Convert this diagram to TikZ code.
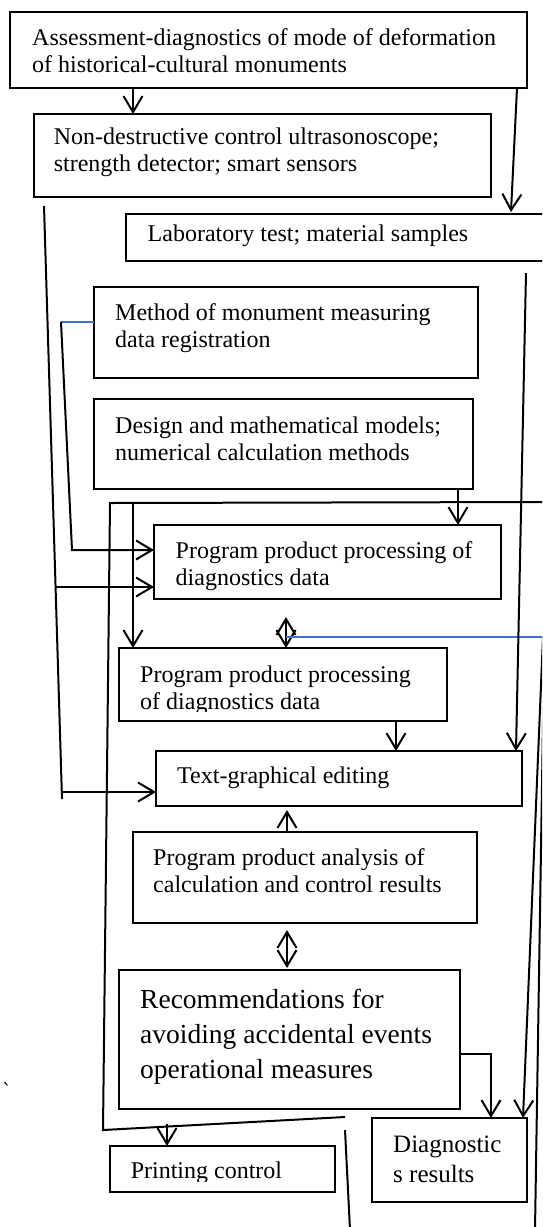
\documentclass[tikz,border=0pt]{standalone}
\usepackage{fontspec}
\setmainfont{Liberation Serif}
\newfontfamily\dvserif{DejaVu Serif}
\usetikzlibrary{arrows.meta,calc}
\definecolor{bluec}{RGB}{68,114,196}
\begin{document}
\begin{tikzpicture}[x=1pt,y=-1pt,
  box/.style={draw, line width=1.9pt, anchor=north west, inner sep=0pt, outer sep=0pt},
  txt/.style={anchor=north west, inner sep=0pt, align=left, font=\fontsize{24}{27}\selectfont},
  bigtxt/.style={anchor=north west, inner sep=0pt, align=left, font=\fontsize{27.5}{35}\selectfont},
  midtxt/.style={anchor=north west, inner sep=0pt, align=left, font=\fontsize{25}{30}\selectfont},
  con/.style={line width=2pt},
  arr/.style={con, -{Straight Barb[length=16pt,width=19pt]}},
  dbl/.style={con, {Straight Barb[length=16pt,width=19pt]}-{Straight Barb[length=16pt,width=19pt]}},
  blu/.style={draw=bluec, line width=1.3pt}]
\useasboundingbox (0,0) rectangle (542,1227);
\clip (0,0) rectangle (542,1227);
\fill[white] (0,0) rectangle (542,1227);

% boxes
\node[box, minimum width=517pt, minimum height=76pt] (b1) at (10,12) {};
\node[box, minimum width=457pt, minimum height=83pt] (b2) at (34,114) {};
\node[box, minimum width=480pt, minimum height=47pt] (b3) at (126,214) {};
\node[box, minimum width=384pt, minimum height=91pt] (b4) at (94,287) {};
\node[box, minimum width=379pt, minimum height=90pt] (b5) at (94,399) {};
\node[box, minimum width=347pt, minimum height=74pt] (b6) at (154,525) {};
\node[box, minimum width=328pt, minimum height=73pt] (b7) at (119,648) {};
\node[box, minimum width=366pt, minimum height=55pt] (b8) at (156,751) {};
\node[box, minimum width=344pt, minimum height=91pt] (b9) at (133,832) {};
\node[box, minimum width=341pt, minimum height=139pt] (b10) at (119,970) {};
\node[box, minimum width=225pt, minimum height=46pt] (b11) at (110,1146) {};
\node[box, minimum width=155pt, minimum height=84pt] (b12) at (372,1118) {};

% texts
\node[txt] (t1) at (32,28.6) {Assessment-diagnostics of mode of deformation\\of historical-cultural monuments};
\node[txt] (t2) at (53.6,127.6) {Non-destructive control ultrasonoscope;\\strength detector; smart sensors};
\begin{scope}
\clip (0,0) rectangle (542,246);
\node[txt] (t3) at (147.5,224.6) {Laboratory test; material samples};
\end{scope}
\node[txt] (t4) at (115,303.6) {Method of monument measuring\\data registration};
\node[txt] (t5) at (115,416.6) {Design and mathematical models;\\numerical calculation methods};
\node[txt] (t6) at (175.5,541.6) {Program product processing of\\diagnostics data};
\begin{scope}
\clip (0,0) rectangle (542,711);
\node[txt] (t7) at (140,665.6) {Program product processing\\of diagnostics data};
\end{scope}
\node[txt] (t8) at (177,766.6) {Text-graphical editing};
\node[txt] (t9) at (153,848.6) {Program product analysis of\\calculation and control results};
\node[bigtxt] (t10) at (140,989.2) {Recommendations for\\avoiding accidental events\\operational measures};
\begin{scope}
\clip (0,0) rectangle (542,1181);
\node[txt] (t11) at (130.6,1161.6) {Printing control};
\end{scope}
\node[midtxt] (t12) at (393,1135.9) {Diagnostic\\s results};
\node[inner sep=0pt, font=\dvserif\fontsize{20}{24}\selectfont] (bt) at (7,1090) {ˋ};

% coordinates
\coordinate (c1a) at (133,88);   \coordinate (c1b) at (133,114);
\coordinate (c2a) at (517,88);   \coordinate (c2b) at (511,212);
\coordinate (L1a) at (44,206);   \coordinate (L1b) at (62,799);
\coordinate (L1m) at (55.6,587); \coordinate (L1n) at (61.8,792);
\coordinate (b6in2) at (154,587); \coordinate (b8in) at (156,792);
\coordinate (m0) at (94,322); \coordinate (m1) at (61,322); \coordinate (m2) at (72,550);
\coordinate (b6in1) at (154,550);
\coordinate (o1) at (545,502); \coordinate (o2) at (110,503);
\coordinate (o3) at (103,1130); \coordinate (o4) at (345,1117);
\coordinate (v1) at (133,503); \coordinate (v2) at (133,648);
\coordinate (d1) at (458,489); \coordinate (d2) at (458,525);
\coordinate (e1) at (286,617); \coordinate (e2) at (286,648);
\coordinate (bl1) at (286,637); \coordinate (bl2) at (545,637);
\coordinate (A1) at (543,637); \coordinate (A2) at (523,1118);
\coordinate (B1) at (543.5,690); \coordinate (B2) at (535,1230);
\coordinate (lab1) at (526,273); \coordinate (lab2) at (516,751);
\coordinate (f1) at (396,721); \coordinate (f2) at (396,751);
\coordinate (g1) at (287,832); \coordinate (g2) at (287,810);
\coordinate (h1) at (287,930); \coordinate (h2) at (287,968);
\coordinate (k1) at (460,1054); \coordinate (k2) at (491,1054); \coordinate (k3) at (491,1118);
\coordinate (p1) at (167,1124); \coordinate (p2) at (167,1146);
\coordinate (C1) at (345,1130); \coordinate (C2) at (350,1230);

% connectors
\draw[arr] (c1a) -- (c1b);
\draw[arr] (c2a) -- (c2b);
\draw[con] (L1a) -- (L1b);
\draw[arr] (L1m) -- (b6in2);
\draw[arr] (L1n) -- (b8in);
\draw[blu] (m0) -- (m1);
\draw[arr] (m1) -- (m2) -- (b6in1);
\draw[con] (o1) -- (o2) -- (o3) -- (o4);
\draw[arr] (v1) -- (v2);
\draw[arr] (d1) -- (d2);
\draw[dbl] (e1) -- (e2);
\draw[blu] (bl1) -- (bl2);
\draw[arr] (A1) -- (A2);
\draw[con] (B1) -- (B2);
\draw[arr] (lab1) -- (lab2);
\draw[arr] (f1) -- (f2);
\draw[arr] (g1) -- (g2);
\draw[dbl] (h1) -- (h2);
\draw[arr] (k1) -- (k2) -- (k3);
\draw[arr] (p1) -- (p2);
\draw[con] (C1) -- (C2);
\end{tikzpicture}
\end{document}
